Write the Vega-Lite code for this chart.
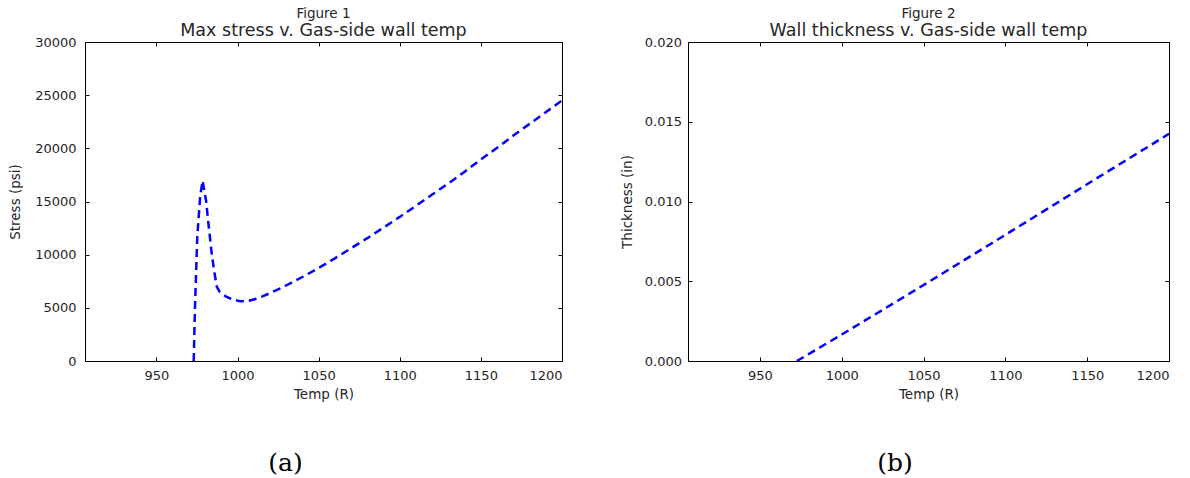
{
  "$schema": "https://vega.github.io/schema/vega-lite/v6.json",
  "background": "white",
  "padding": {"left": 8, "top": 6, "right": 5, "bottom": 5},
  "datasets": {
    "stress": [
      {"temp": 973.0, "stress": 0},
      {"temp": 973.8, "stress": 5100},
      {"temp": 975.2, "stress": 11700},
      {"temp": 977.0, "stress": 15500},
      {"temp": 978.5, "stress": 16950},
      {"temp": 980.6, "stress": 15100},
      {"temp": 982.3, "stress": 12600},
      {"temp": 984.1, "stress": 10100},
      {"temp": 985.7, "stress": 8400},
      {"temp": 987.2, "stress": 7000},
      {"temp": 989.0, "stress": 6500},
      {"temp": 993.0, "stress": 6050},
      {"temp": 997.0, "stress": 5780},
      {"temp": 1001.0, "stress": 5640},
      {"temp": 1005.0, "stress": 5600},
      {"temp": 1010.0, "stress": 5780},
      {"temp": 1015.0, "stress": 6050},
      {"temp": 1020.0, "stress": 6380},
      {"temp": 1030.0, "stress": 7100},
      {"temp": 1040.0, "stress": 7900},
      {"temp": 1050.0, "stress": 8750},
      {"temp": 1060.0, "stress": 9650},
      {"temp": 1070.0, "stress": 10600},
      {"temp": 1080.0, "stress": 11550},
      {"temp": 1090.0, "stress": 12550},
      {"temp": 1100.0, "stress": 13550},
      {"temp": 1110.0, "stress": 14600},
      {"temp": 1120.0, "stress": 15650},
      {"temp": 1130.0, "stress": 16700},
      {"temp": 1140.0, "stress": 17800},
      {"temp": 1150.0, "stress": 18950},
      {"temp": 1160.0, "stress": 20050},
      {"temp": 1170.0, "stress": 21200},
      {"temp": 1180.0, "stress": 22300},
      {"temp": 1190.0, "stress": 23400},
      {"temp": 1200.0, "stress": 24500}
    ],
    "thick": [
      {"temp": 972.5, "thickness": 0.0},
      {"temp": 980, "thickness": 0.00045},
      {"temp": 1000, "thickness": 0.00166},
      {"temp": 1020, "thickness": 0.00290},
      {"temp": 1040, "thickness": 0.00414},
      {"temp": 1060, "thickness": 0.00539},
      {"temp": 1080, "thickness": 0.00665},
      {"temp": 1100, "thickness": 0.00791},
      {"temp": 1120, "thickness": 0.00918},
      {"temp": 1140, "thickness": 0.01045},
      {"temp": 1160, "thickness": 0.01172},
      {"temp": 1180, "thickness": 0.01298},
      {"temp": 1200, "thickness": 0.01424}
    ]
  },
  "config": {
    "view": {"stroke": "#000000", "strokeWidth": 1},
    "axis": {
      "domain": false,
      "grid": false,
      "tickColor": "#000000",
      "tickSize": -4,
      "labelFont": "DejaVu Sans",
      "labelFontSize": 13,
      "labelColor": "#262626",
      "titleFont": "DejaVu Sans",
      "titleFontSize": 13.5,
      "titleFontWeight": "normal",
      "titleColor": "#262626"
    },
    "axisX": {"labelPadding": 12, "titlePadding": 5},
    "axisY": {"labelPadding": 10, "titlePadding": 10},
    "title": {"font": "DejaVu Sans", "color": "#262626", "fontWeight": "normal"}
  },
  "spacing": 56,
  "hconcat": [
    {
      "title": {"text": "(a)", "orient": "bottom", "anchor": "middle", "frame": "bounds", "font": "DejaVu Serif", "fontSize": 25, "color": "#000000", "offset": 50},
      "vconcat": [
        {
          "width": 477,
          "height": 319,
          "title": {"text": "Figure 1", "subtitle": "Max stress v. Gas-side wall temp", "anchor": "middle", "frame": "group", "fontSize": 13.5, "subtitleFont": "DejaVu Sans", "subtitleFontSize": 17.5, "subtitleColor": "#262626", "subtitlePadding": 1, "offset": -3},
          "data": {"name": "stress"},
          "resolve": {"axis": {"x": "independent", "y": "independent"}},
          "layer": [
            {
              "mark": {"type": "line", "color": "#0000ff", "strokeDash": [8, 5], "strokeWidth": 2.5, "clip": true},
              "encoding": {
                "x": {"field": "temp", "type": "quantitative", "scale": {"domain": [906, 1200], "nice": false, "zero": false},
                      "axis": {"values": [950, 1000, 1050, 1100, 1150, 1200], "format": "d", "title": "Temp (R)"}},
                "y": {"field": "stress", "type": "quantitative", "scale": {"domain": [0, 30000], "nice": false},
                      "axis": {"values": [0, 5000, 10000, 15000, 20000, 25000, 30000], "format": "d", "title": "Stress (psi)", "labelPadding": 13, "titlePadding": 12}}
              }
            },
            {
              "mark": {"type": "line", "opacity": 0},
              "encoding": {
                "x": {"field": "temp", "type": "quantitative", "scale": {"domain": [906, 1200], "nice": false, "zero": false},
                      "axis": {"orient": "top", "labels": false, "title": null, "values": [950, 1000, 1050, 1100, 1150, 1200]}},
                "y": {"field": "stress", "type": "quantitative", "scale": {"domain": [0, 30000], "nice": false},
                      "axis": {"orient": "right", "labels": false, "title": null, "values": [0, 5000, 10000, 15000, 20000, 25000, 30000]}}
              }
            }
          ]
        }
      ]
    },
    {
      "title": {"text": "(b)", "orient": "bottom", "anchor": "middle", "frame": "bounds", "font": "DejaVu Serif", "fontSize": 25, "color": "#000000", "offset": 50},
      "vconcat": [
        {
          "width": 481,
          "height": 319,
          "title": {"text": "Figure 2", "subtitle": "Wall thickness v. Gas-side wall temp", "anchor": "middle", "frame": "group", "fontSize": 13.5, "subtitleFont": "DejaVu Sans", "subtitleFontSize": 17.5, "subtitleColor": "#262626", "subtitlePadding": 1, "offset": -3},
          "data": {"name": "thick"},
          "resolve": {"axis": {"x": "independent", "y": "independent"}},
          "layer": [
            {
              "mark": {"type": "line", "color": "#0000ff", "strokeDash": [8, 5], "strokeWidth": 2.5, "clip": true},
              "encoding": {
                "x": {"field": "temp", "type": "quantitative", "scale": {"domain": [906, 1200], "nice": false, "zero": false},
                      "axis": {"values": [950, 1000, 1050, 1100, 1150, 1200], "format": "d", "title": "Temp (R)"}},
                "y": {"field": "thickness", "type": "quantitative", "scale": {"domain": [0, 0.02], "nice": false},
                      "axis": {"values": [0, 0.005, 0.01, 0.015, 0.02], "format": ".3f", "title": "Thickness (in)", "labelPadding": 10.5, "titlePadding": 10}}
              }
            },
            {
              "mark": {"type": "line", "opacity": 0},
              "encoding": {
                "x": {"field": "temp", "type": "quantitative", "scale": {"domain": [906, 1200], "nice": false, "zero": false},
                      "axis": {"orient": "top", "labels": false, "title": null, "values": [950, 1000, 1050, 1100, 1150, 1200]}},
                "y": {"field": "thickness", "type": "quantitative", "scale": {"domain": [0, 0.02], "nice": false},
                      "axis": {"orient": "right", "labels": false, "title": null, "values": [0, 0.005, 0.01, 0.015, 0.02]}}
              }
            }
          ]
        }
      ]
    }
  ]
}
